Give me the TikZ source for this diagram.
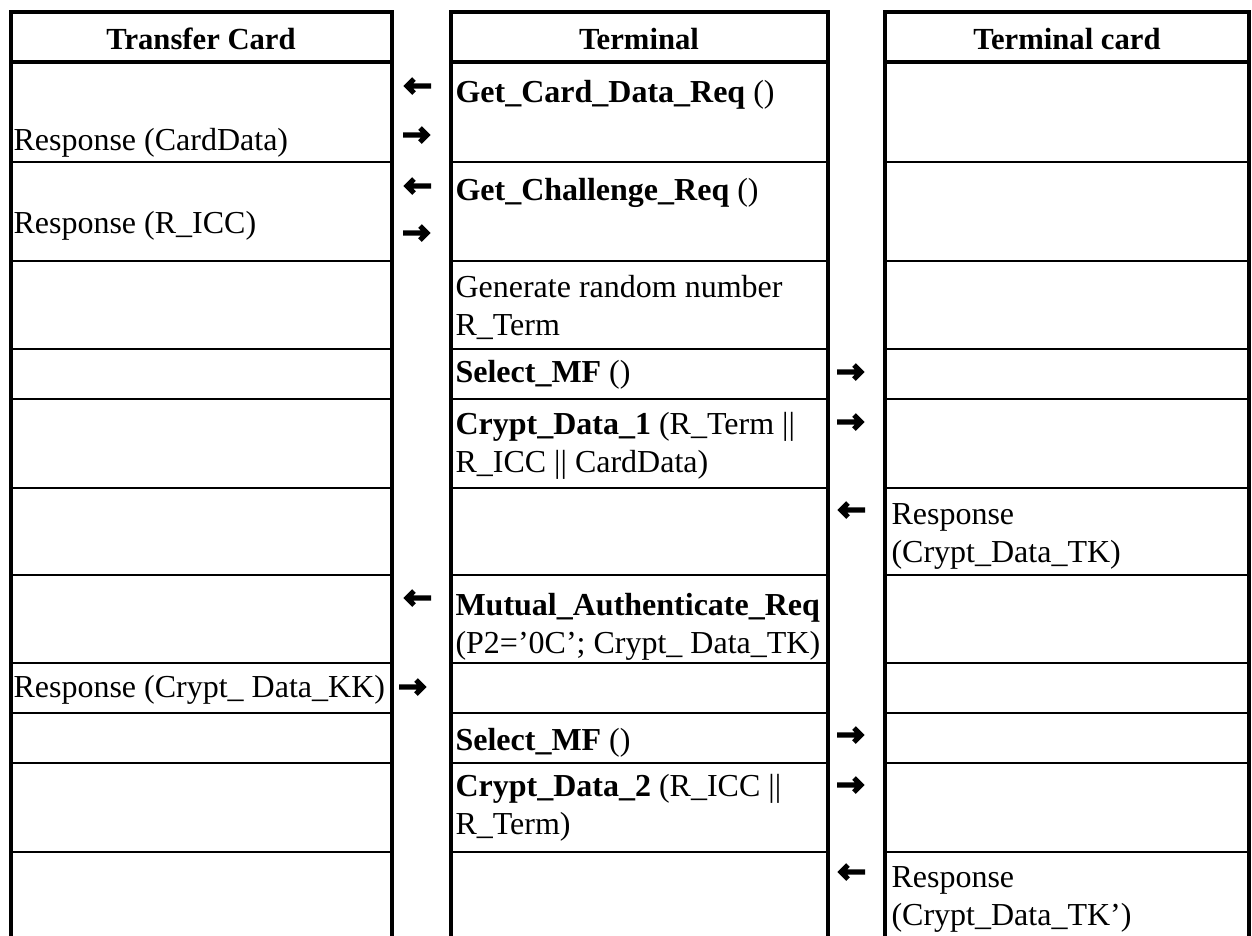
\documentclass[tikz,border=0pt]{standalone}
\usepackage{fontspec}
\setmainfont{Liberation Serif}
\begin{document}
\begin{tikzpicture}[x=0.375pt, y=-0.375pt,
  cell/.style={anchor=base west, inner sep=0pt, align=left, font=\fontsize{12}{14.2}\selectfont},
  head/.style={anchor=base, inner sep=0pt, font=\fontsize{11.5}{14}\selectfont\bfseries},
  rarr/.pic={\draw[line width=1.9pt, line join=miter] (-14,0) -- (10,0) (3,-7) -- (10,0) -- (3,7);},
  larr/.pic={\draw[line width=1.9pt, line join=miter] (14,0) -- (-10,0) (-3,-7) -- (-10,0) -- (-3,7);}]
  \useasboundingbox (0,0) rectangle (1252,936);
  % the three columns
  \foreach \l/\r in {10.5/392, 450.5/827.5, 885/1249} {
    \draw[line width=1.5pt] (\l,936) -- (\l,12) -- (\r,12) -- (\r,936);
    \draw[line width=1.5pt] (\l,62) -- (\r,62);
    \foreach \y in {162,261,349,399,488,575,663,713,763,852}
      \draw[line width=0.8pt] (\l,\y) -- (\r,\y);
  }
  \node[head] (tc) at (201,49) {Transfer Card};
  \node[head] (term) at (639,49) {Terminal};
  \node[head] (tcard) at (1067,49) {Terminal card};
  % messages (base = last line)
  \node[cell] (req1) at (455,102) {\textbf{Get\_Card\_Data\_Req} ()};
  \node[cell] (rsp1) at (13,150) {Response (CardData)};
  \node[cell] (req2) at (455,200) {\textbf{Get\_Challenge\_Req} ()};
  \node[cell] (rsp2) at (13,233) {Response (R\_ICC)};
  \node[cell] (gen) at (455,335) {Generate random number\\R\_Term};
  \node[cell] (sel1) at (455,382) {\textbf{Select\_MF} ()};
  \node[cell] (cry1) at (455,472) {\textbf{Crypt\_Data\_1} (R\_Term ||\\R\_ICC || CardData)};
  \node[cell] (rsp3) at (891,562) {Response\\(Crypt\_Data\_TK)};
  \node[cell] (mut) at (455,653) {\textbf{Mutual\_Authenticate\_Req}\\(P2=’0C’; Crypt\_ Data\_TK)};
  \node[cell] (rsp4) at (13,697) {Response (Crypt\_ Data\_KK)};
  \node[cell] (sel2) at (455,750) {\textbf{Select\_MF} ()};
  \node[cell] (cry2) at (455,834) {\textbf{Crypt\_Data\_2} (R\_ICC ||\\R\_Term)};
  \node[cell] (rsp5) at (891,925) {Response\\(Crypt\_Data\_TK’)};
  % direction marks
  \foreach \x/\y/\d in {417/86/larr, 417/135/rarr, 417/186/larr, 417/233/rarr,
                        417/598/larr, 413/687/rarr,
                        851/372/rarr, 851/422/rarr, 851/510/larr,
                        851/735/rarr, 851/785/rarr, 851/872/larr}
    \pic at (\x,\y) {\d};
\end{tikzpicture}
\end{document}
